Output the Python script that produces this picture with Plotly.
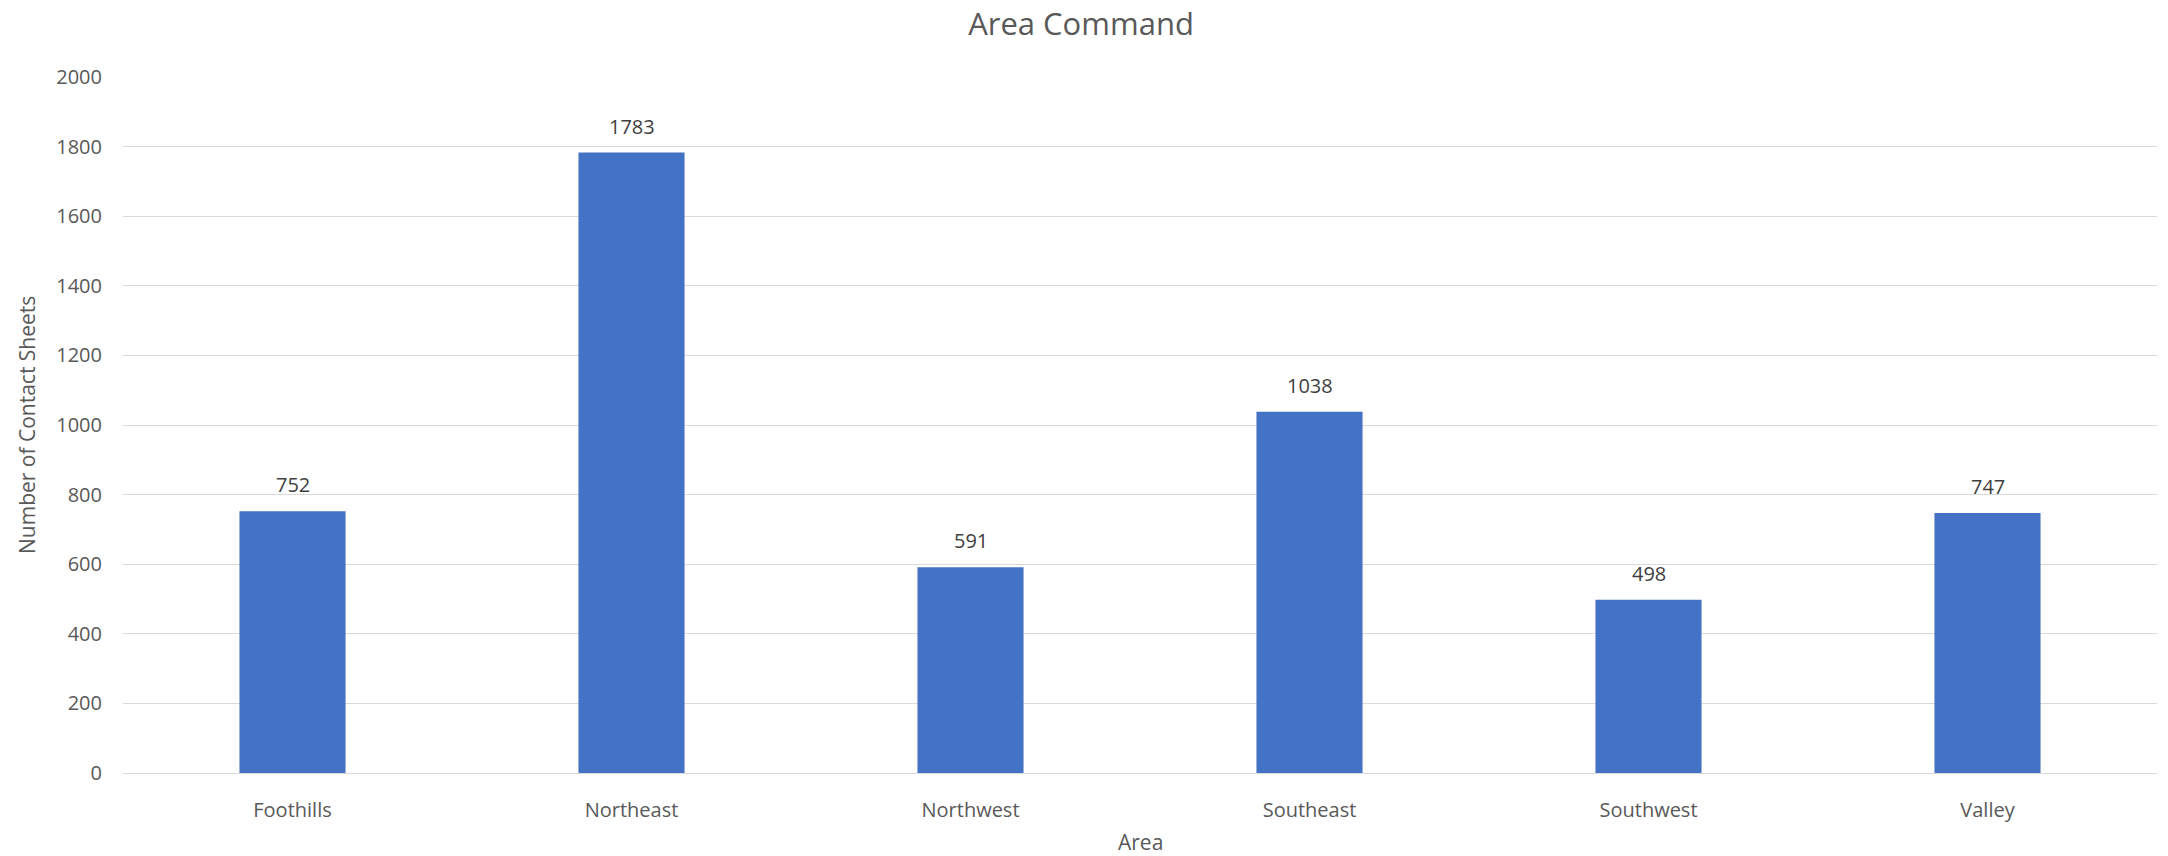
import plotly.graph_objects as go

categories = ["Foothills", "Northeast", "Northwest", "Southeast", "Southwest", "Valley"]
values = [752, 1783, 591, 1038, 498, 747]
y_ticks = [0, 200, 400, 600, 800, 1000, 1200, 1400, 1600, 1800, 2000]

# page body has an 8px margin; size the figure so it fills the window
OFF = 8
W, H = 2168 - OFF, 856 - OFF
ml, mr, mt, mb = 123 - OFF, 11, 77 - OFF, 83
FONT = "Open Sans"

fig = go.Figure()
fig.add_trace(go.Bar(
    x=categories, y=values,
    marker=dict(color="#4472C4", line=dict(width=0)),
    width=0.313,
))

annotations = []
for c, v in zip(categories, values):
    annotations.append(dict(
        x=c, y=v, xref="x", yref="y", text=str(v), showarrow=False,
        yanchor="bottom", yshift=11,
        font=dict(family=FONT, size=20, color="#404040"),
    ))
# axis titles
annotations.append(dict(
    x=0, y=0.5, xref="paper", yref="paper", text="Number of Contact Sheets",
    showarrow=False, textangle=-90, xanchor="center", yanchor="middle",
    xshift=-(ml - (27 - OFF)), font=dict(family=FONT, size=21, color="#595959"),
))
annotations.append(dict(
    x=0.5, y=0, xref="paper", yref="paper", text="Area",
    showarrow=False, xanchor="center", yanchor="middle",
    yshift=-((842 - OFF) - (H - mb)), font=dict(family=FONT, size=21, color="#595959"),
))

fig.update_layout(
    width=W, height=H,
    margin=dict(l=ml, r=mr, t=mt, b=mb, pad=0),
    paper_bgcolor="white", plot_bgcolor="white",
    showlegend=False,
    title=dict(text="Area Command", x=(1081 - OFF) / W, xanchor="center",
               y=1 - (24 - OFF) / H, yanchor="middle", yref="container",
               font=dict(family=FONT, size=31, color="#595959")),
    annotations=annotations,
    bargap=0.687,
)
fig.update_yaxes(
    range=[0, 2000], tickvals=y_ticks, ticktext=[str(t) for t in y_ticks],
    showgrid=True, gridcolor="#d9d9d9", gridwidth=1.3,
    zeroline=False, showline=False, ticks="",
    ticklabelstandoff=20,
    tickfont=dict(family=FONT, size=20, color="#595959"),
)
fig.update_xaxes(
    showgrid=False, showline=True, linecolor="#d9d9d9", linewidth=1.3,
    ticks="", ticklabelstandoff=19,
    tickfont=dict(family=FONT, size=20, color="#595959"),
)

fig.write_html("out.html")
